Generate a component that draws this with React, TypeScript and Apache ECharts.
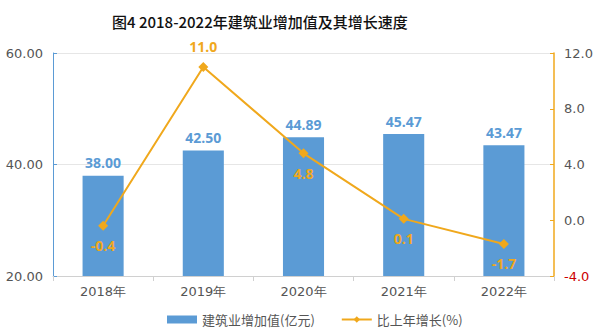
import React, { useEffect, useRef } from "react";
import * as echarts from "echarts";

const categories = ["2018年", "2019年", "2020年", "2021年", "2022年"];
const valueAdded = [38.0, 42.5, 44.89, 45.47, 43.47];
const growth = [-0.4, 11.0, 4.8, 0.1, -1.7];
const growthLabelPos = ["bottom", "top", "bottom", "bottom", "bottom"];

const BLUE = "#5B9BD5";
const ORANGE = "#F0A81C";
const CJK = "'Noto Sans CJK SC', 'DejaVu Sans', sans-serif";
const NUM = "'DejaVu Sans', sans-serif";

export default function App() {
  const ref = useRef<HTMLDivElement>(null);
  useEffect(() => {
    const chart = echarts.init(ref.current!, null, { renderer: "svg" });
    chart.setOption({
      animation: false,
      backgroundColor: "#fff",
      title: {
        text: "图4 2018-2022年建筑业增加值及其增长速度",
        left: 107,
        top: 9,
        textStyle: { fontFamily: CJK, fontSize: 15, fontWeight: 500, color: "#111" },
      },
      legend: {
        bottom: 5,
        left: 162,
        itemGap: 26,
        itemWidth: 30,
        itemHeight: 8,
        textStyle: { fontFamily: CJK, fontSize: 13, color: "#555" },
        data: [
          { name: "建筑业增加值(亿元)", icon: "rect" },
          { name: "比上年增长(%)" },
        ],
      },
      grid: { left: 53, right: 46, top: 53, bottom: 60 },
      xAxis: {
        type: "category",
        data: categories,
        axisLine: { onZero: false, lineStyle: { color: "#d0d0d0" } },
        axisTick: { show: true, lineStyle: { color: "#d0d0d0" } },
        axisLabel: { fontFamily: NUM, fontSize: 13, color: "#555", margin: 9 },
      },
      yAxis: [
        {
          type: "value",
          min: 20,
          max: 60,
          interval: 20,
          axisLine: { show: true, lineStyle: { color: BLUE } },
          axisTick: { show: true, inside: true, length: 4, lineStyle: { color: BLUE } },
          axisLabel: {
            fontFamily: NUM,
            fontSize: 13,
            color: "#555",
            margin: 10,
            formatter: (v: number) => v.toFixed(2),
          },
          splitLine: { show: true, lineStyle: { color: "#e6e6e6" } },
        },
        {
          type: "value",
          min: -4,
          max: 12,
          interval: 4,
          axisLine: { show: true, lineStyle: { color: ORANGE, width: 1.5 } },
          axisTick: { show: true, inside: true, length: 4, lineStyle: { color: ORANGE } },
          axisLabel: {
            fontFamily: NUM,
            fontSize: 13,
            margin: 10,
            formatter: (v: number) => v.toFixed(1),
            color: (v: any) => (Number(v) < 0 ? "#cc0000" : "#555"),
          },
          splitLine: { show: false },
        },
      ],
      series: [
        {
          name: "建筑业增加值(亿元)",
          type: "bar",
          data: valueAdded,
          barWidth: "41%",
          itemStyle: { color: BLUE },
          label: {
            show: true,
            position: "top",
            distance: 6,
            color: BLUE,
            fontFamily: "'Open Sans', sans-serif",
            fontWeight: "bold",
            fontSize: 14,
            formatter: (p: any) => Number(p.value).toFixed(2),
          },
        },
        {
          name: "比上年增长(%)",
          type: "line",
          yAxisIndex: 1,
          data: growth.map((v, i) => ({
            value: v,
            label: { position: growthLabelPos[i] },
          })),
          symbol: "diamond",
          symbolSize: 10,
          lineStyle: { color: ORANGE, width: 2 },
          itemStyle: { color: ORANGE },
          label: {
            show: true,
            distance: 8,
            color: ORANGE,
            fontFamily: "'Open Sans', sans-serif",
            fontWeight: "bold",
            fontSize: 14,
            formatter: (p: any) => Number(p.value).toFixed(1),
          },
        },
      ],
    });
    return () => chart.dispose();
  }, []);
  return (
    <div
      ref={ref}
      style={{ width: 600, height: 336, position: "fixed", left: 0, top: 0 }}
    />
  );
}
